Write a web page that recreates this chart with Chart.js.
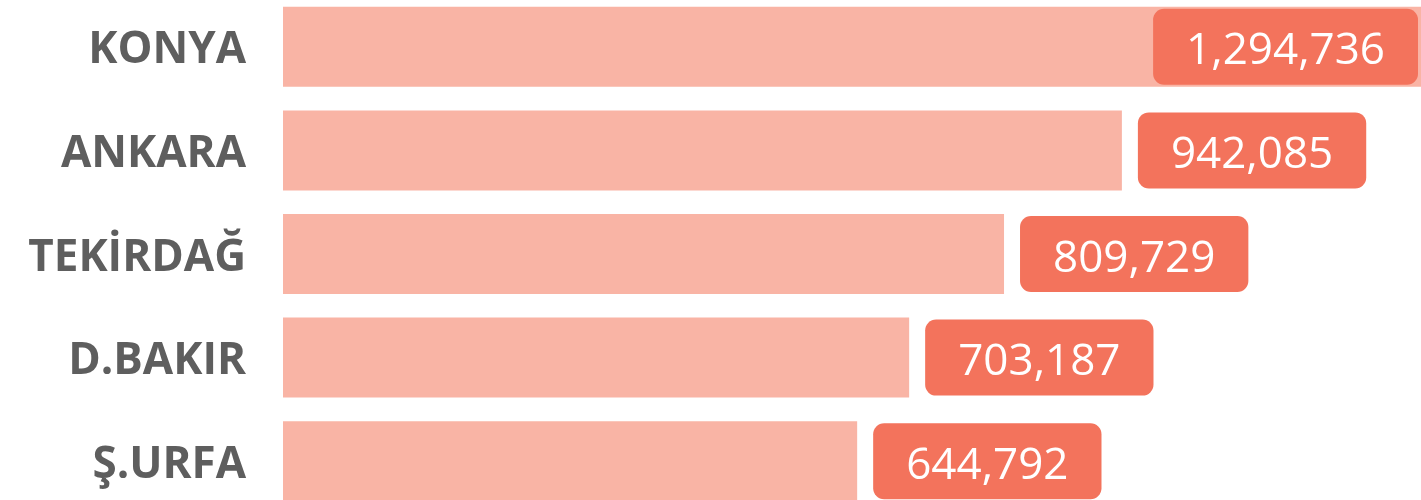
<!DOCTYPE html>
<html>
<head>
<meta charset="utf-8">
<script src="https://cdn.jsdelivr.net/npm/chart.js@4"></script>
<style>
  html, body { margin: 0; padding: 0; background: #fff; overflow: hidden; }
  #wrap { position: absolute; left: 0; top: -5px; width: 1421px; height: 518px; }
</style>
</head>
<body>
<div id="wrap"><canvas id="provChart"></canvas></div>
<script>
// provinces and their totals
const provinces = ['KONYA', 'ANKARA', 'TEKİRDAĞ', 'D.BAKIR', 'Ş.URFA'];
const totals = [1294736, 942085, 809729, 703187, 644792];

const barColor = '#F9B4A5';
const boxColor = '#F3735C';
const labelColor = '#5E5E5E';

// rounded value boxes drawn after the bars
const valueBoxes = {
    id: 'valueBoxes',
    afterDatasetsDraw(chart) {
        const ctx = chart.ctx;
        const meta = chart.getDatasetMeta(0);
        const area = chart.chartArea;
        ctx.save();
        ctx.font = '44px "Open Sans"';
        ctx.textBaseline = 'middle';
        ctx.textAlign = 'center';
        meta.data.forEach((bar, i) => {
            const text = totals[i].toLocaleString('en-US');
            const w = ctx.measureText(text).width + 66;
            const h = 76;
            let x = bar.x + 16;
            if (x + w > area.right - 3) x = area.right - 3 - w;
            const y = bar.y - h / 2;
            ctx.fillStyle = boxColor;
            ctx.beginPath();
            ctx.roundRect(x, y, w, h, 11);
            ctx.fill();
            ctx.fillStyle = '#fff';
            ctx.fillText(text, x + w / 2, bar.y + 5);
        });
        ctx.restore();
    }
};

new Chart(document.getElementById('provChart'), {
    type: 'bar',
    data: {
        labels: provinces,
        datasets: [{
            data: totals,
            backgroundColor: barColor,
            borderWidth: 0,
            barPercentage: 0.772,
            categoryPercentage: 1
        }]
    },
    options: {
        indexAxis: 'y',
        responsive: true,
        maintainAspectRatio: false,
        animation: false,
        layout: { padding: 0 },
        plugins: {
            legend: { display: false },
            tooltip: { enabled: false }
        },
        scales: {
            x: {
                display: false,
                min: 0,
                max: 1278000
            },
            y: {
                grid: { display: false, drawTicks: false },
                border: { display: false },
                afterFit: (scale) => {
                    // fixed label column, no extra room above/below the bars
                    scale.width = 283;
                    scale.paddingTop = 0;
                    scale.paddingBottom = 0;
                },
                ticks: {
                    padding: 37,
                    labelOffset: 4,
                    color: labelColor,
                    font: { family: 'Open Sans', size: 44, weight: 'bold' }
                }
            }
        }
    },
    plugins: [valueBoxes]
});
</script>
</body>
</html>
